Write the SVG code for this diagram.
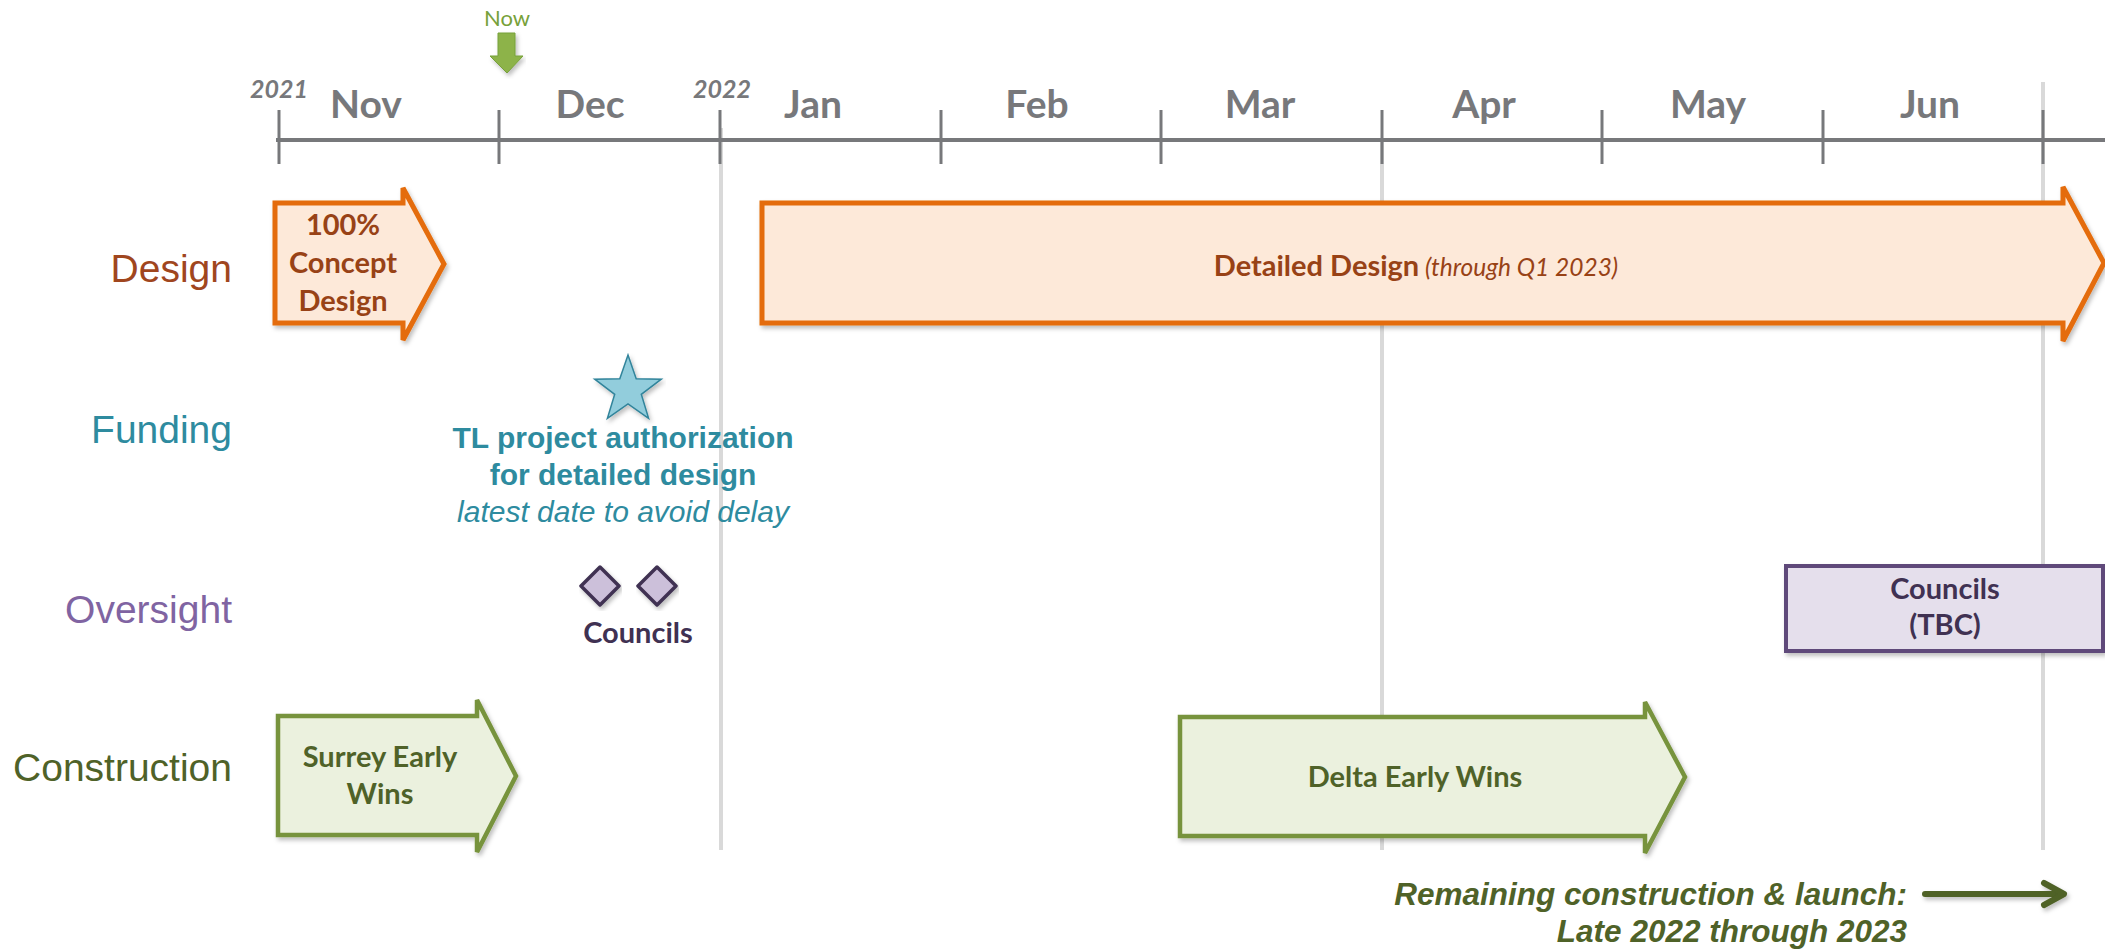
<svg xmlns="http://www.w3.org/2000/svg" width="2105" height="951" viewBox="0 0 2105 951">
<defs>
<filter id="sh" x="-5%" y="-5%" width="112%" height="120%">
<feDropShadow dx="2" dy="3" stdDeviation="2" flood-color="#000" flood-opacity="0.25"/>
</filter>
<filter id="shu" filterUnits="userSpaceOnUse" x="1900" y="870" width="190" height="50">
<feDropShadow dx="2" dy="3" stdDeviation="2" flood-color="#000" flood-opacity="0.25"/>
</filter>
</defs>
<style>
.mon{font-family:Lato,"Open Sans",sans-serif;font-weight:bold;font-size:39px;fill:#77787b;text-anchor:middle}
.yr{font-family:Lato,"Open Sans",sans-serif;font-weight:bold;font-style:italic;font-size:25px;fill:#77787b;text-anchor:middle}
.tick{stroke:#77787b;stroke-width:3}
.grid{stroke:#d9d9d9;stroke-width:4}
.row{font-family:"Liberation Sans",Arial,sans-serif;font-size:39px;text-anchor:end}
.bx{font-family:Lato,"Open Sans",sans-serif;font-weight:bold;font-size:29px;text-anchor:middle}
.orng{fill:#fde9d9;stroke:#e46c0a;stroke-width:5;stroke-linejoin:miter}
.grn{fill:#ebf1de;stroke:#77933c;stroke-width:4.5;stroke-linejoin:miter}
.rem{font-family:"Liberation Sans",Arial,sans-serif;font-weight:bold;font-style:italic;font-size:31.5px;fill:#4f6228;text-anchor:end}
</style>
<rect width="2105" height="951" fill="#ffffff"/>

<g id="gridlines">
<line class="grid" x1="721" y1="128" x2="721" y2="850"/>
<line class="grid" x1="1382" y1="140" x2="1382" y2="850"/>
<line class="grid" x1="2043" y1="82" x2="2043" y2="850"/>
</g>

<g id="timeline">
<line x1="276" y1="140" x2="2105" y2="140" stroke="#77787b" stroke-width="4"/>
<line class="tick" x1="279" y1="110" x2="279" y2="164"/>
<line class="tick" x1="499" y1="110" x2="499" y2="164"/>
<line class="tick" x1="720" y1="110" x2="720" y2="164"/>
<line class="tick" x1="941" y1="110" x2="941" y2="164"/>
<line class="tick" x1="1161" y1="110" x2="1161" y2="164"/>
<line class="tick" x1="1382" y1="110" x2="1382" y2="164"/>
<line class="tick" x1="1602" y1="110" x2="1602" y2="164"/>
<line class="tick" x1="1823" y1="110" x2="1823" y2="164"/>
<line class="tick" x1="2043" y1="110" x2="2043" y2="164"/>
<text class="yr" x="279" y="98">2021</text>
<text class="yr" x="722" y="98">2022</text>
<text class="mon" x="366" y="118">Nov</text>
<text class="mon" x="590" y="118">Dec</text>
<text class="mon" x="813" y="118">Jan</text>
<text class="mon" x="1037" y="118">Feb</text>
<text class="mon" x="1260" y="118">Mar</text>
<text class="mon" x="1484" y="118">Apr</text>
<text class="mon" x="1708" y="118">May</text>
<text class="mon" x="1930" y="118">Jun</text>
</g>

<g id="now">
<text x="507" y="26" font-family="Lato,'Open Sans',sans-serif" font-size="22" fill="#77a13a" text-anchor="middle">Now</text>
<polygon points="498,33 515,33 515,56 523,56 507,73 490,56 498,56" fill="#8db34a" stroke="#77a13a" stroke-width="1" filter="url(#sh)"/>
</g>

<g id="row-labels">
<text class="row" x="232" y="282" fill="#a0461e">Design</text>
<text class="row" x="232" y="443" fill="#2e8b9f">Funding</text>
<text class="row" x="232" y="623" fill="#8064a2">Oversight</text>
<text class="row" x="232" y="781" fill="#4f6228">Construction</text>
</g>

<g id="concept-design">
<polygon class="orng" filter="url(#sh)" points="275,203 403,203 403,188 444,264 403,340 403,323 275,323"/>
<text class="bx" fill="#984216" x="343" y="235">100%</text>
<text class="bx" fill="#984216" x="343" y="273">Concept</text>
<text class="bx" fill="#984216" x="343" y="311">Design</text>
</g>

<g id="detailed-design">
<polygon class="orng" filter="url(#sh)" points="762,203 2063,203 2063,187 2104,263 2063,341 2063,323 762,323"/>
<text x="1416" y="276" font-family="Lato,'Open Sans',sans-serif" text-anchor="middle" fill="#984216"><tspan font-weight="bold" font-size="29">Detailed Design</tspan><tspan font-style="italic" font-size="24.5"> (through Q1 2023)</tspan></text>
</g>

<g id="funding-milestone">
<polygon points="628,355 636.2,378.7 661.3,379.2 641.3,394.3 648.6,418.3 628,404 607.4,418.3 614.7,394.3 594.7,379.2 619.8,378.7" fill="#92cddc" stroke="#31849b" stroke-width="1.5" filter="url(#sh)"/>
<text x="623" y="448" font-family="'Liberation Sans',Arial,sans-serif" font-weight="bold" font-size="30" fill="#2e8b9f" text-anchor="middle">TL project authorization</text>
<text x="623" y="485" font-family="'Liberation Sans',Arial,sans-serif" font-weight="bold" font-size="30" fill="#2e8b9f" text-anchor="middle">for detailed design</text>
<text x="623" y="522" font-family="'Liberation Sans',Arial,sans-serif" font-style="italic" font-size="30" fill="#2e8b9f" text-anchor="middle">latest date to avoid delay</text>
</g>

<g id="councils-milestones">
<polygon points="600,567 619,586 600,605 581,586" fill="#ccc0da" stroke="#403152" stroke-width="3.5" stroke-linejoin="round" filter="url(#sh)"/>
<polygon points="657,567 676,586 657,605 638,586" fill="#ccc0da" stroke="#403152" stroke-width="3.5" stroke-linejoin="round" filter="url(#sh)"/>
<text class="bx" fill="#403152" x="638" y="643">Councils</text>
</g>

<g id="councils-tbc">
<rect x="1786" y="566" width="317" height="85" fill="#e5dfec" stroke="#5f497a" stroke-width="4" filter="url(#sh)"/>
<text class="bx" fill="#403152" x="1945" y="599">Councils</text>
<text class="bx" fill="#403152" x="1945" y="635">(TBC)</text>
</g>

<g id="surrey-early-wins">
<polygon class="grn" filter="url(#sh)" points="278,716 477,716 477,700 516,776 477,852 477,835 278,835"/>
<text class="bx" fill="#4f6228" x="380" y="767">Surrey Early</text>
<text class="bx" fill="#4f6228" x="380" y="804">Wins</text>
</g>

<g id="delta-early-wins">
<polygon class="grn" filter="url(#sh)" points="1180,717 1645,717 1645,702 1685,777 1645,853 1645,836 1180,836"/>
<text class="bx" fill="#4f6228" x="1415" y="787">Delta Early Wins</text>
</g>

<g id="remaining">
<text class="rem" x="1907" y="905">Remaining construction &amp; launch:</text>
<text class="rem" x="1907" y="942">Late 2022 through 2023</text>
</g>

<g id="connectors" filter="url(#shu)">
<line x1="1925" y1="894" x2="2060" y2="894" stroke="#4f6228" stroke-width="6" stroke-linecap="round"/>
<polyline points="2044,883 2064,894 2044,905" fill="none" stroke="#4f6228" stroke-width="6" stroke-linecap="round" stroke-linejoin="round"/>
</g>
</svg>
